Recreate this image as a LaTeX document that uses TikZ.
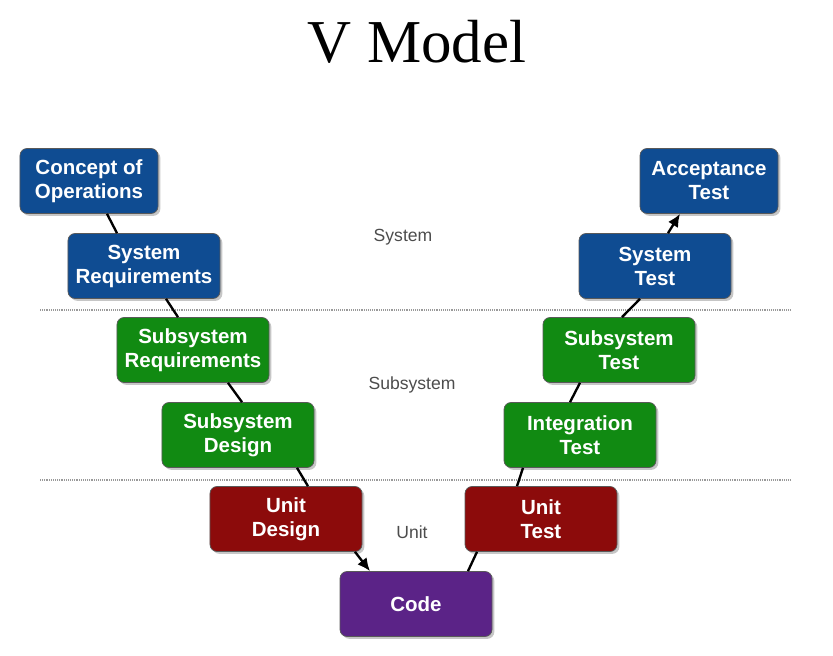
\documentclass[tikz,border=0pt]{standalone}
\usepackage{fontspec}
\setmainfont{Liberation Serif}
\newfontfamily\boxfont{Liberation Sans}
\usepackage{tikz}
\usetikzlibrary{calc,shadows,arrows.meta}

\definecolor{vblue}{HTML}{0F4C92}
\definecolor{vgreen}{HTML}{118A12}
\definecolor{vred}{HTML}{8C0B0B}
\definecolor{vpurple}{HTML}{5B2387}

\begin{document}
\begin{tikzpicture}[x=0.03cm,y=-0.03cm,
  box/.style={rounded corners=6pt,draw=black!65,line width=0.6pt,text=white,
    font=\boxfont\bfseries\fontsize{17.5}{20.5}\selectfont,align=center,
    minimum width=4.56cm,minimum height=1.95cm,inner sep=0pt,
    drop shadow={shadow xshift=2pt,shadow yshift=-2pt,opacity=0.45}},
  sysbox/.style={box,fill=vblue},
  subbox/.style={box,fill=vgreen},
  unitbox/.style={box,fill=vred},
  codebox/.style={box,fill=vpurple},
  layer/.style={font=\boxfont\fontsize{15}{17}\selectfont,text=black!70,anchor=base},
  link/.style={line width=2pt},
  tip/.style={-{Latex[length=11pt,width=10pt]}},
  sep/.style={black!40,line width=1.3pt,dash pattern=on 0.8pt off 0.8pt}]
  \useasboundingbox (0,0) rectangle (833,656);

  \node[font=\fontsize{52}{60}\selectfont] (title) at (417,42) {V Model};

  % levels
  \draw[sep] (40,310) -- (790,310);
  \draw[sep] (40,480) -- (790,480);
  \node[layer] (lsys) at (403,242) {System};
  \node[layer] (lsub) at (412,390) {Subsystem};
  \node[layer] (lunit) at (412,538) {Unit};

  % left side
  \node[sysbox,minimum width=4.14cm] (conops) at (89,181) {Concept of\\Operations};
  \node[sysbox] (sysreq) at (144,266) {System\\Requirements};
  \node[subbox] (subreq) at (193,350) {Subsystem\\Requirements};
  \node[subbox] (subdes) at (238,435) {Subsystem\\Design};
  \node[unitbox] (unitdes) at (286,519) {Unit\\Design};

  \node[codebox] (code) at (416,604) {Code};

  % right side
  \node[unitbox] (unittest) at (541,519) {Unit\\Test};
  \node[subbox] (inttest) at (580,435) {Integration\\Test};
  \node[subbox] (subtest) at (619,350) {Subsystem\\Test};
  \node[sysbox] (systest) at (655,266) {System\\Test};
  \node[sysbox,minimum width=4.14cm] (accept) at (709,181) {Acceptance\\Test};

  \draw[link] ($(conops.south)+(18,0)$) -- ($(sysreq.north)+(-27,0)$);
  \draw[link] ($(sysreq.south)+(22,0)$) -- ($(subreq.north)+(-15,0)$);
  \draw[link] ($(subreq.south)+(35,0)$) -- ($(subdes.north)+(4,0)$);
  \draw[link] ($(subdes.south)+(59,0)$) -- ($(unitdes.north)+(22,0)$);
  \draw[link,tip] ($(unitdes.south)+(69,0)$) -- ($(code.north)+(-46,0)$);
  \draw[link] ($(unittest.south)+(-64,0)$) -- ($(code.north)+(52,0)$);
  \draw[link] ($(inttest.south)+(-57,0)$) -- ($(unittest.north)+(-24,0)$);
  \draw[link] ($(subtest.south)+(-39,0)$) -- ($(inttest.north)+(-10,0)$);
  \draw[link] ($(systest.south)+(-15,0)$) -- ($(subtest.north)+(3,0)$);
  \draw[link,tip] ($(systest.north)+(13,0)$) -- ($(accept.south)+(-29,0)$);
\end{tikzpicture}
\end{document}
